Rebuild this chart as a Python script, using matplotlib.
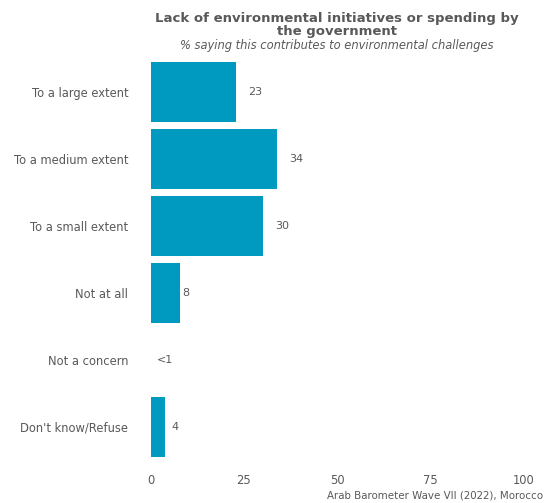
import matplotlib
matplotlib.use('Agg')
import matplotlib.pyplot as plt
import numpy as np

categories = ['To a large extent', 'To a medium extent', 'To a small extent',
              'Not at all', 'Not a concern', "Don't know/Refuse"]
values = [23, 34, 30, 8, 0, 4]
labels = ['23', '34', '30', '8', '<1', '4']
label_pad = [19, 19, 20, 5, 15, 10]  # pixels from bar end to label centre
x_ticks = [0, 25, 50, 75, 100]

bar_color = '#0099c0'
text_color = '#595959'

plt.rcParams['font.family'] = ['DejaVu Sans']

fig = plt.figure(figsize=(5.47, 5.03), dpi=100)
ax = fig.add_axes([150.5 / 547, 1 - 467 / 503, 373.5 / 547, 415 / 503])

y = np.arange(len(categories))
ax.barh(y, values, height=0.9, color=bar_color)
for yi, v, lab, pad in zip(y, values, labels, label_pad):
    ax.annotate(lab, (v, yi), xytext=(pad * 0.72, 0), textcoords='offset points',
                ha='center', va='center', fontsize=8, color=text_color)

ax.set_xlim(0, 100)
ax.set_ylim(len(categories) - 0.4, -0.6)
ax.set_yticks(y)
ax.set_yticklabels(categories, fontsize=8.3, color=text_color)
ax.set_xticks(x_ticks)
ax.set_xticklabels([str(t) for t in x_ticks], fontsize=8.3, color=text_color)
ax.tick_params(length=0)
ax.tick_params(axis='x', pad=5)
ax.tick_params(axis='y', pad=16)
for s in ax.spines.values():
    s.set_visible(False)

fig.text(337 / 547, 1 - 25 / 503, 'Lack of environmental initiatives or spending by\nthe government',
         ha='center', va='center', fontsize=9.5, fontweight='bold', color=text_color,
         linespacing=0.95)
fig.text(337 / 547, 1 - 45 / 503, '% saying this contributes to environmental challenges',
         ha='center', va='center', fontsize=8.3, style='italic', color=text_color)
fig.text(543 / 547, 1 - 495 / 503, 'Arab Barometer Wave VII (2022), Morocco',
         ha='right', va='center', fontsize=7.4, color=text_color)

plt.savefig('out.png', dpi=100)
